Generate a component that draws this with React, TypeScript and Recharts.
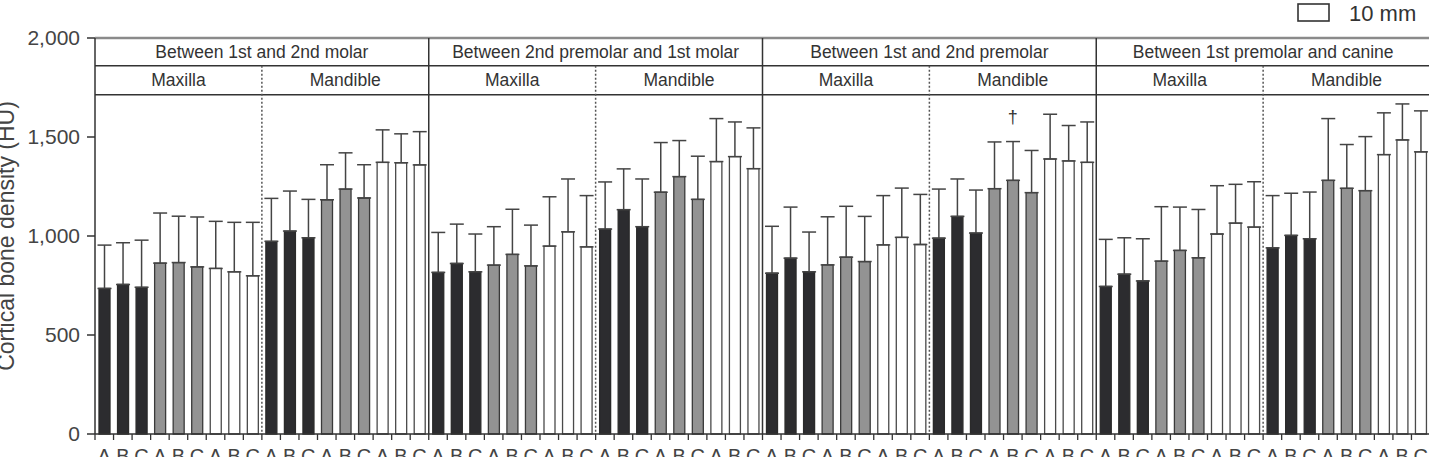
import React from 'react';
import {
  BarChart,
  Bar,
  Cell,
  XAxis,
  YAxis,
  ErrorBar,
  ReferenceArea,
  ReferenceLine,
  ReferenceDot,
  Legend,
} from 'recharts';

// Interdental sites (top header row) and jaws (second header row)
const sites = [
  'Between 1st and 2nd molar',
  'Between 2nd premolar and 1st molar',
  'Between 1st and 2nd premolar',
  'Between 1st premolar and canine',
];
const jaws = ['Maxilla', 'Mandible'];
const letters = ['A', 'B', 'C'];
const tones = ['dark', 'mid', 'light'];

// Mean cortical bone density (HU), per site and jaw: dark A-C, mid A-C, light A-C
const molar12MaxillaMean = [735, 755, 741, 863, 866, 844, 836, 819, 799];
const molar12MandibleMean = [973, 1025, 991, 1183, 1237, 1192, 1372, 1370, 1359];
const pm2m1MaxillaMean = [816, 861, 819, 853, 907, 849, 949, 1021, 945];
const pm2m1MandibleMean = [1035, 1133, 1047, 1221, 1300, 1185, 1376, 1401, 1340];
const pm12MaxillaMean = [812, 888, 819, 854, 893, 871, 955, 993, 957];
const pm12MandibleMean = [989, 1099, 1015, 1239, 1281, 1219, 1389, 1379, 1372];
const pm1cMaxillaMean = [745, 807, 773, 873, 927, 890, 1010, 1065, 1045];
const pm1cMandibleMean = [940, 1003, 986, 1281, 1241, 1229, 1411, 1485, 1425];

// Standard deviations (upper whiskers)
const molar12MaxillaSd = [219, 211, 238, 253, 234, 252, 238, 250, 270];
const molar12MandibleSd = [217, 202, 194, 177, 183, 168, 164, 146, 168];
const pm2m1MaxillaSd = [202, 199, 191, 194, 228, 206, 249, 267, 259];
const pm2m1MandibleSd = [238, 206, 241, 251, 182, 218, 217, 175, 206];
const pm12MaxillaSd = [237, 258, 201, 243, 257, 228, 249, 249, 253];
const pm12MandibleSd = [248, 189, 217, 236, 196, 213, 226, 179, 204];
const pm1cMaxillaSd = [238, 184, 213, 275, 219, 244, 244, 196, 229];
const pm1cMandibleSd = [264, 213, 236, 312, 221, 273, 211, 182, 207];

const yTicks = [0, 500, 1000, 1500, 2000];
// Header rows in HU units: top of frame, split between rows, bottom of header
const headerTop = 2000;
const headerSplit = 1860;
const headerBottom = 1713;

// Bars flagged with a dagger: [site, jaw, bar]
const daggerBars = [[2, 1, 4]];

const meanTable = [
  [molar12MaxillaMean, molar12MandibleMean],
  [pm2m1MaxillaMean, pm2m1MandibleMean],
  [pm12MaxillaMean, pm12MandibleMean],
  [pm1cMaxillaMean, pm1cMandibleMean],
];
const sdTable = [
  [molar12MaxillaSd, molar12MandibleSd],
  [pm2m1MaxillaSd, pm2m1MandibleSd],
  [pm12MaxillaSd, pm12MandibleSd],
  [pm1cMaxillaSd, pm1cMandibleSd],
];

const barId = (s: number, j: number, k: number) => `${s}-${j}-${k}`;

type Row = { id: string; letter: string; tone: string; mean: number; sd: number };
const rows: Row[] = [];
sites.forEach((_, s) =>
  jaws.forEach((__, j) =>
    meanTable[s][j].forEach((m, k) =>
      rows.push({
        id: barId(s, j, k),
        letter: letters[k % 3],
        tone: tones[Math.floor(k / 3)],
        mean: m,
        sd: sdTable[s][j][k],
      })
    )
  )
);

const toneFill: Record<string, string> = { dark: '#2c2c2f', mid: '#939393', light: '#ffffff' };
const toneStroke: Record<string, string> = { dark: '#2a2a2a', mid: '#3a3a3a', light: '#4a4a4a' };

const CHART_W = 1430;
const CHART_H = 457;
const Y_AXIS_W = 95;
const BAND = (CHART_W - Y_AXIS_W) / rows.length;
const INK = '#333';
const FONT = '"Liberation Sans", Arial, Helvetica, sans-serif';

const CategoryTick = (props: any) => {
  const { x, y, payload, index } = props;
  const axisY = y - 8;
  const i = payload?.index ?? index;
  const row = rows[i];
  const isLast = i === rows.length - 1;
  return (
    <g>
      <line x1={x - BAND / 2} x2={x - BAND / 2} y1={axisY} y2={axisY + 6} stroke={INK} strokeWidth={1.3} />
      {isLast && (
        <line x1={x + BAND / 2} x2={x + BAND / 2} y1={axisY} y2={axisY + 6} stroke={INK} strokeWidth={1.3} />
      )}
      <text x={x} y={axisY + 29} textAnchor="middle" fontSize={20} fill="#444">
        {row ? row.letter : ''}
      </text>
    </g>
  );
};

const YLabel = (props: any) => {
  const vb = props.viewBox || { x: 0, y: 38, width: Y_AXIS_W, height: 395 };
  const cx = vb.x + 14;
  const cy = vb.y + vb.height / 2;
  return (
    <text
      x={cx}
      y={cy}
      transform={`rotate(-90, ${cx}, ${cy})`}
      textAnchor="middle"
      fontSize={23}
      fill="#444"
    >
      Cortical bone density (HU)
    </text>
  );
};

const LegendContent = () => (
  <svg width={130} height={26}>
    <rect x={3} y={4} width={31} height={17} fill="#fff" stroke={INK} strokeWidth={1.6} />
    <text x={54} y={20.5} fontSize={22} fill="#333" fontFamily={FONT}>
      10 mm
    </text>
  </svg>
);

const Dagger = (props: any) => (
  <text x={props.cx} y={props.cy - 19} textAnchor="middle" fontSize={18} fill="#333">
    †
  </text>
);

export default function App() {
  return (
    <div
      style={{
        position: 'absolute',
        left: 0,
        top: 0,
        width: 1429,
        height: CHART_H,
        overflow: 'hidden',
        background: '#fff',
        fontFamily: FONT,
      }}
    >
      <BarChart
        width={CHART_W}
        height={CHART_H}
        data={rows}
        margin={{ top: 38, right: 0, bottom: 0, left: 0 }}
        barSize={11}
      >
        <XAxis
          dataKey="id"
          interval={0}
          height={23}
          tickLine={false}
          axisLine={{ stroke: INK, strokeWidth: 1.5 }}
          tick={<CategoryTick />}
        />
        <YAxis
          width={Y_AXIS_W}
          domain={[0, 2000]}
          ticks={yTicks}
          interval={0}
          tickSize={8}
          tickMargin={7}
          tick={{ fontSize: 21, fill: '#444' }}
          tickLine={{ stroke: INK, strokeWidth: 1.5 }}
          axisLine={{ stroke: INK, strokeWidth: 1.5 }}
          tickFormatter={(v: number) => v.toLocaleString('en-US')}
          label={<YLabel />}
        />
        <Legend
          layout="horizontal"
          verticalAlign="middle"
          align="center"
          content={<LegendContent />}
          wrapperStyle={{ position: 'absolute', top: 0, left: 1295, width: 130, height: 26 }}
        />

        {/* header labels */}
        {sites.map((site, s) => (
          <ReferenceArea
            key={`site-${s}`}
            x1={barId(s, 0, 0)}
            x2={barId(s, 1, 8)}
            y1={headerSplit}
            y2={headerTop}
            fill="none"
            stroke="none"
            ifOverflow="visible"
            label={{ value: site, position: 'center', fontSize: 17.5, fill: '#333' }}
          />
        ))}
        {sites.map((_, s) =>
          jaws.map((jaw, j) => (
            <ReferenceArea
              key={`jaw-${s}-${j}`}
              x1={barId(s, j, 0)}
              x2={barId(s, j, 8)}
              y1={headerBottom}
              y2={headerSplit}
              fill="none"
              stroke="none"
              ifOverflow="visible"
              label={{ value: jaw, position: 'center', fontSize: 17.5, fill: '#333' }}
            />
          ))
        )}

        {/* header frame */}
        <ReferenceLine y={headerTop} stroke="#8a8a8a" strokeWidth={2.5} />
        <ReferenceLine y={headerSplit} stroke={INK} strokeWidth={1.5} />
        <ReferenceLine y={headerBottom} stroke={INK} strokeWidth={1.5} />

        {/* solid dividers between sites, right frame edge */}
        {sites.slice(1).map((_, i) => (
          <ReferenceLine key={`div-${i}`} x={barId(i + 1, 0, 0)} position="start" stroke={INK} strokeWidth={1.5} />
        ))}
        <ReferenceLine
          x={barId(3, 1, 8)}
          position="end"
          stroke={INK}
          strokeWidth={1.5}
          ifOverflow="visible"
        />

        {/* dotted dividers between maxilla and mandible */}
        {sites.map((_, s) => (
          <ReferenceLine
            key={`dot-${s}`}
            segment={[
              { x: barId(s, 1, 0), y: headerSplit },
              { x: barId(s, 1, 0), y: 0 },
            ]}
            position="start"
            stroke="#555"
            strokeWidth={1.5}
            strokeDasharray="2 2"
          />
        ))}

        <Bar dataKey="mean" isAnimationActive={false} strokeWidth={1.3}>
          {rows.map((r) => (
            <Cell key={r.id} fill={toneFill[r.tone]} stroke={toneStroke[r.tone]} />
          ))}
          <ErrorBar
            dataKey={(r: Row) => [0, r.sd]}
            width={7}
            stroke="#444"
            strokeWidth={1.5}
            isAnimationActive={false}
          />
        </Bar>

        {daggerBars.map(([s, j, k]) => {
          const r = rows.find((row) => row.id === barId(s, j, k))!;
          return (
            <ReferenceDot
              key={`dagger-${r.id}`}
              x={r.id}
              y={r.mean + r.sd}
              r={0}
              shape={<Dagger />}
            />
          );
        })}
      </BarChart>
    </div>
  );
}
